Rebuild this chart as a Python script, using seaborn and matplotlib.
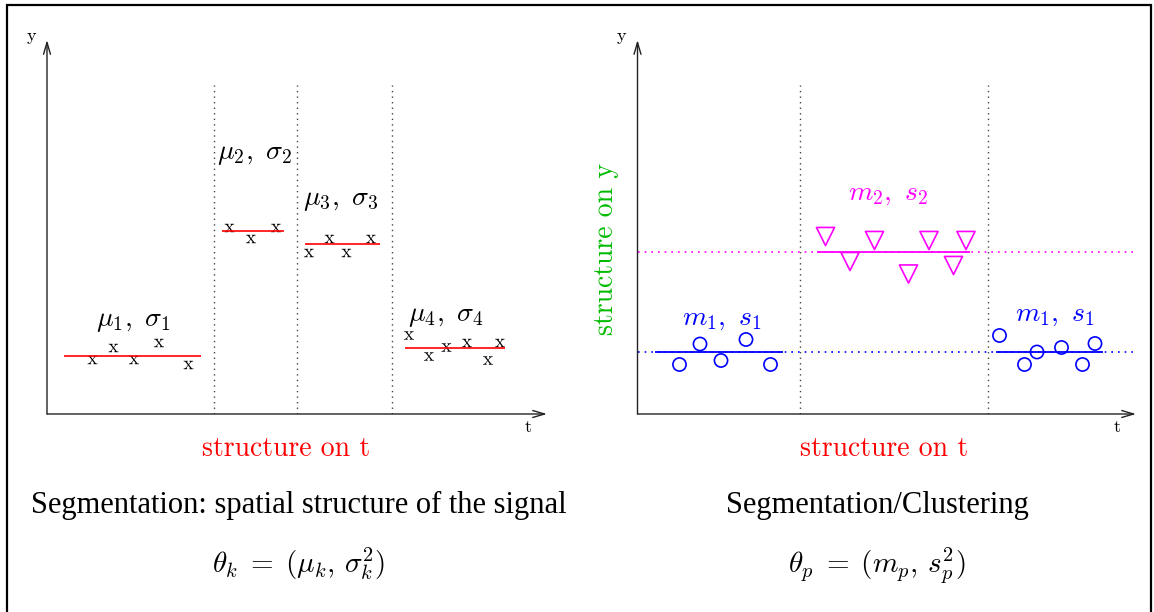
import matplotlib
matplotlib.use("Agg")
import matplotlib.pyplot as plt
import seaborn as sns
from matplotlib.lines import Line2D

sns.set_style("white")
plt.rcParams["mathtext.fontset"] = "cm"
plt.rcParams["font.family"] = ["DejaVu Sans"]
plt.rcParams["text.color"] = "black"

# ---------------- Segmentation panel (t, y in axis units) ----------------
seg_bounds = [3.33, 4.99, 6.90]
seg_start = [0.34, 3.50, 5.16, 7.16]
seg_end = [3.08, 4.74, 6.66, 9.16]
seg_mean = [1.16, 3.66, 3.40, 1.32]
seg_labels = [r"$\mu_1,\ \sigma_1$", r"$\mu_2,\ \sigma_2$",
              r"$\mu_3,\ \sigma_3$", r"$\mu_4,\ \sigma_4$"]
seg_label_t = [1.72, 4.16, 5.88, 7.98]
seg_label_y = [1.88, 5.22, 4.30, 1.98]

obs_t = [0.91, 1.33, 1.74, 2.24, 2.83,
         3.65, 4.08, 4.58,
         5.24, 5.65, 5.99, 6.48,
         7.24, 7.64, 7.99, 8.40, 8.82, 9.06]
obs_y = [1.08, 1.32, 1.08, 1.42, 0.98,
         3.72, 3.50, 3.72,
         3.22, 3.50, 3.22, 3.50,
         1.57, 1.15, 1.33, 1.42, 1.07, 1.42]

# ---------------- Clustering panel ----------------
clu_bounds = [3.24, 7.00]
class_level = [1.24, 3.24]          # class 1 (blue), class 2 (magenta)
class1_start = [0.35, 7.17]
class1_end = [2.90, 9.30]
class2_start = [3.59]
class2_end = [6.65]
class1_labels_t = [1.69, 8.35]
class1_labels_y = [1.92, 2.00]
class2_label_t = [5.02]
class2_label_y = [4.43]

tri_t = [3.76, 4.25, 4.74, 5.42, 5.83, 6.32, 6.57]
tri_y = [3.55, 3.05, 3.47, 2.80, 3.47, 2.97, 3.47]
circ_t = [0.84, 1.25, 1.67, 2.17, 2.66, 7.24, 7.74, 7.99, 8.48, 8.90, 9.15]
circ_y = [0.99, 1.40, 1.07, 1.49, 0.99, 1.57, 0.99, 1.24, 1.33, 0.99, 1.41]

BLUE = "#0000ff"
MAGENTA = "#ff00ff"
RED = "#ff0000"
GREEN = "#00bb00"
DOTS = (0, (1, 3))

W, H = 1154, 612
fig = plt.figure(figsize=(W / 100, H / 100), dpi=100)


def px_axes(x0, y_top, x1, y_bot):
    return fig.add_axes([x0 / W, 1 - y_bot / H, (x1 - x0) / W, (y_bot - y_top) / H])


def arrow_axes(ax):
    for s in ax.spines.values():
        s.set_visible(False)
    ax.set_xticks([])
    ax.set_yticks([])
    ax.patch.set_alpha(0)
    style = "->,head_length=0.85,head_width=0.25"
    for end in [(1, 0), (0, 1)]:
        ax.annotate("", xy=end, xytext=(0, 0), xycoords="axes fraction",
                    arrowprops=dict(arrowstyle=style, lw=1.0, color="#222222",
                                    shrinkA=0, shrinkB=0))
    ax.text(-0.032, 0.99, "y", transform=ax.transAxes, family="cmr10",
            fontsize=13, ha="center", va="bottom")
    ax.text(0.962, -0.015, "t", transform=ax.transAxes, family="cmr10",
            fontsize=13, ha="center", va="top")


# ---- left panel ----
axL = px_axes(47, 40, 547, 414)
arrow_axes(axL)
axL.vlines(seg_bounds, 0, 6.58, colors="#444444", linestyles=DOTS, lw=1)
axL.hlines(seg_mean, seg_start, seg_end, colors=RED, lw=1.2)
sns.scatterplot(x=obs_t, y=obs_y, marker=r"$\mathrm{x}$", s=50, color="black",
                edgecolor="none", linewidth=0, ax=axL, legend=False)
for lab, tx, ty in zip(seg_labels, seg_label_t, seg_label_y):
    axL.text(tx, ty, lab, fontsize=20, ha="center", va="center")
axL.set_xlim(0, 10)
axL.set_ylim(0, 7.48)

# ---- right panel ----
axR = px_axes(637.5, 40, 1136, 414)
arrow_axes(axR)
axR.vlines(clu_bounds, 0, 6.58, colors="#444444", linestyles=DOTS, lw=1)
axR.hlines(class_level, 0, 9.9, colors=[BLUE, MAGENTA], linestyles=DOTS, lw=1.2)
axR.hlines([class_level[0]] * 2, class1_start, class1_end, colors=BLUE, lw=1.3)
axR.hlines([class_level[1]], class2_start, class2_end, colors=MAGENTA, lw=1.3)
sns.scatterplot(x=circ_t, y=circ_y, marker="o", s=90, color=BLUE,
                facecolor="none", edgecolor=BLUE, linewidth=1.2, ax=axR, legend=False)
sns.scatterplot(x=tri_t, y=tri_y, marker="v", s=170, color=MAGENTA,
                facecolor="none", edgecolor=MAGENTA, linewidth=1.2, ax=axR, legend=False)
for tx, ty in zip(class1_labels_t, class1_labels_y):
    axR.text(tx, ty, r"$m_1,\ s_1$", fontsize=20, ha="center", va="center", color=BLUE)
axR.text(class2_label_t[0], class2_label_y[0], r"$m_2,\ s_2$", fontsize=20,
         ha="center", va="center", color=MAGENTA)
axR.text(-0.064, 0.441, "structure on y", transform=axR.transAxes, family="cmr10",
         fontsize=20, color=GREEN, rotation=90, ha="center", va="center")
axR.set_xlim(0, 9.97)
axR.set_ylim(0, 7.48)

# ---- captions ----
fig.text(286 / W, 1 - 456 / H, "structure on t", family="cmr10", fontsize=20,
         color=RED, ha="center", va="baseline")
fig.text(884.5 / W, 1 - 456 / H, "structure on t", family="cmr10", fontsize=20,
         color=RED, ha="center", va="baseline")
fig.text(299 / W, 1 - 513 / H, "Segmentation: spatial structure of the signal",
         family="Liberation Serif", fontsize=22, ha="center", va="baseline")
fig.text(877 / W, 1 - 513 / H, "Segmentation/Clustering",
         family="Liberation Serif", fontsize=22, ha="center", va="baseline")
fig.text(299 / W, 1 - 573 / H, r"$\theta_k\;=\;(\mu_k,\,\sigma_k^2)$", fontsize=21,
         ha="center", va="baseline")
fig.text(877 / W, 1 - 573 / H, r"$\theta_p\;=\;(m_p,\,s_p^2)$", fontsize=21,
         ha="center", va="baseline")

# ---- frame around the figure ----
frame_x = [7 / W, 7 / W, 1151 / W, 1151 / W]
frame_y = [-0.01, 1 - 5 / H, 1 - 5 / H, -0.01]
fig.add_artist(Line2D(frame_x, frame_y, color="black", lw=1.6,
                      transform=fig.transFigure, solid_joinstyle="miter"))

fig.savefig("out.png", dpi=100)
